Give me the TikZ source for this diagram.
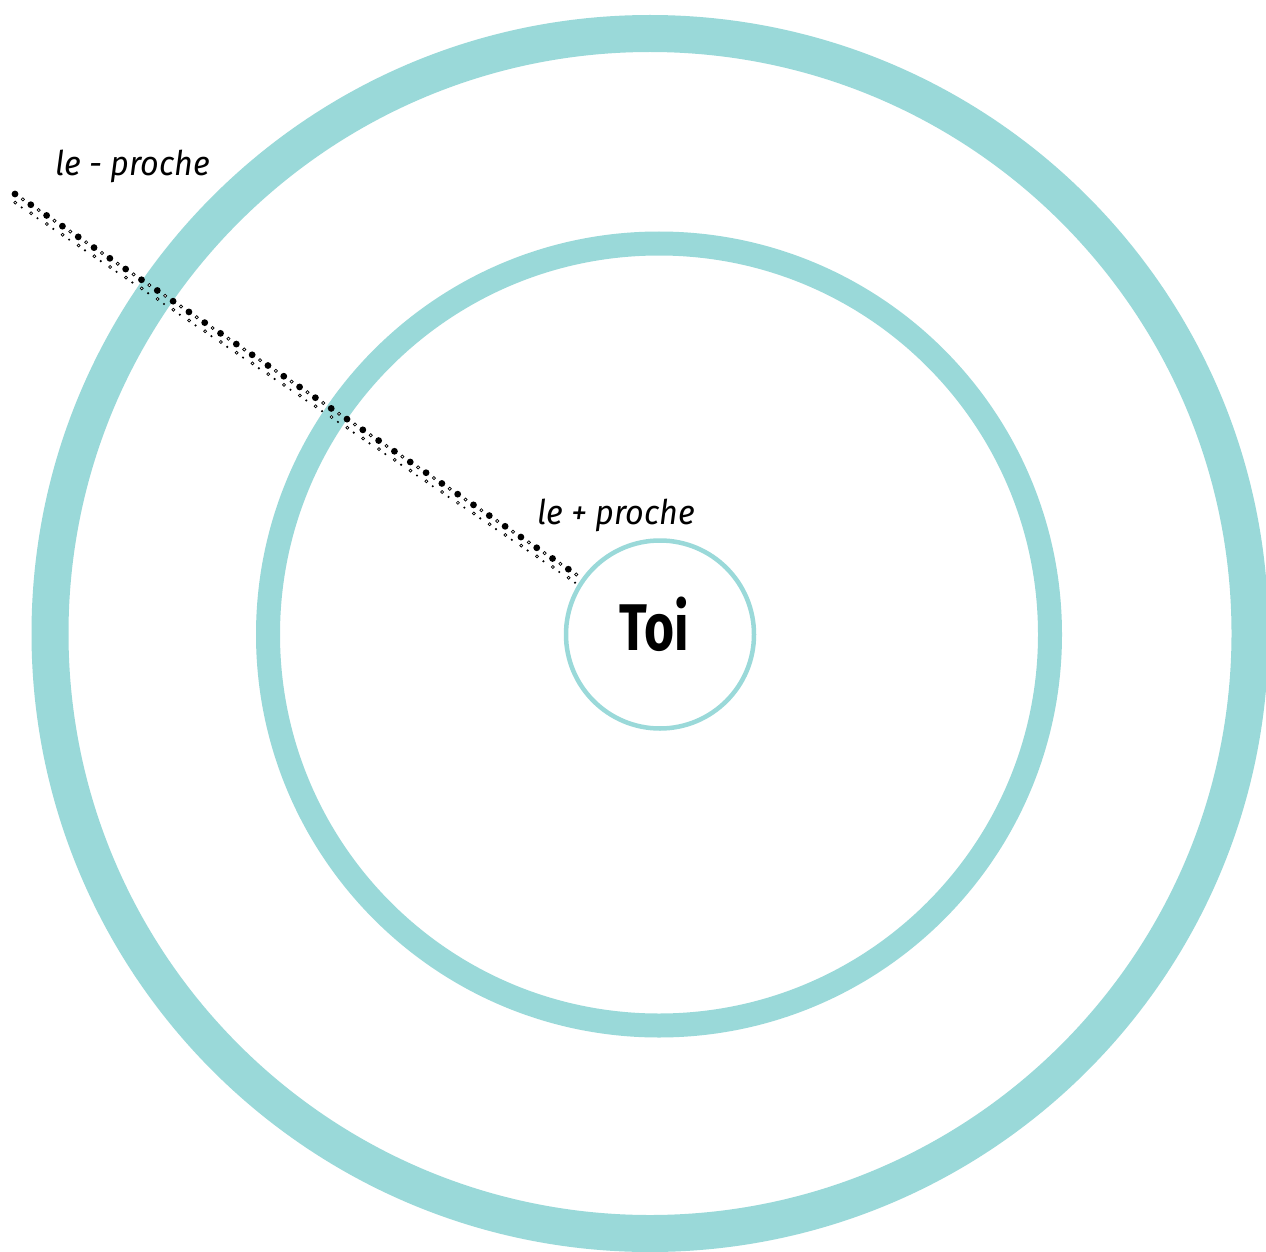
\documentclass[tikz,border=0pt]{standalone}
\usepackage{fontspec}
\usetikzlibrary{calc}
\newfontfamily\handfont{Fira Sans}
\newfontfamily\boldfont{Fira Sans}
\definecolor{ring}{RGB}{154,217,217}
\begin{document}
\begin{tikzpicture}[x=1pt,y=-1pt,
  ringline/.style={draw=ring},
  handlabel/.style={anchor=base west,inner sep=0pt,font=\handfont\itshape\fontsize{34}{34}\selectfont},
  bigdot/.style={fill=black},
  hollowdot/.style={draw=black,fill=white,line width=0.7pt},
  tinydot/.style={fill=black}]
\path[use as bounding box] (0,0) rectangle (1266,1252);
\clip (0,0) rectangle (1266,1252);
\fill[white] (0,0) rectangle (1266,1252);
% rings
\draw[ringline,line width=37pt] (650,633.5) circle [radius=600pt];
\draw[ringline,line width=24pt] (659,634.5) circle [radius=391pt];
\draw[ringline,line width=4.5pt] (660,634.5) circle [radius=94pt];
% centre node
\node[inner sep=0pt] (toi) at (654,624) {\scalebox{0.78}[1]{\boldfont\bfseries\fontsize{66}{66}\selectfont Toi}};
% labels
\node[handlabel,xscale=0.95] (far) at (55,176) {le - proche};
\node[handlabel,xscale=0.95] (near) at (537,524) {le + proche};
% dotted connector
\coordinate (lstart) at (15,194);
\foreach \i in {0,...,35}{
  \fill[bigdot] ($(lstart)+(15.81*\i,10.72*\i)$) circle [radius=3.4pt];
  \draw[hollowdot] ($(lstart)+(15.81*\i+7.9,10.72*\i+5.36)$) circle [radius=1.6pt];
  \draw[hollowdot] ($(lstart)+(15.81*\i+0.3,10.72*\i+8.6)$) circle [radius=1.5pt];
  \fill[tinydot] ($(lstart)+(15.81*\i+6.7,10.72*\i+13.5)$) circle [radius=1.2pt];
}
\end{tikzpicture}
\end{document}
